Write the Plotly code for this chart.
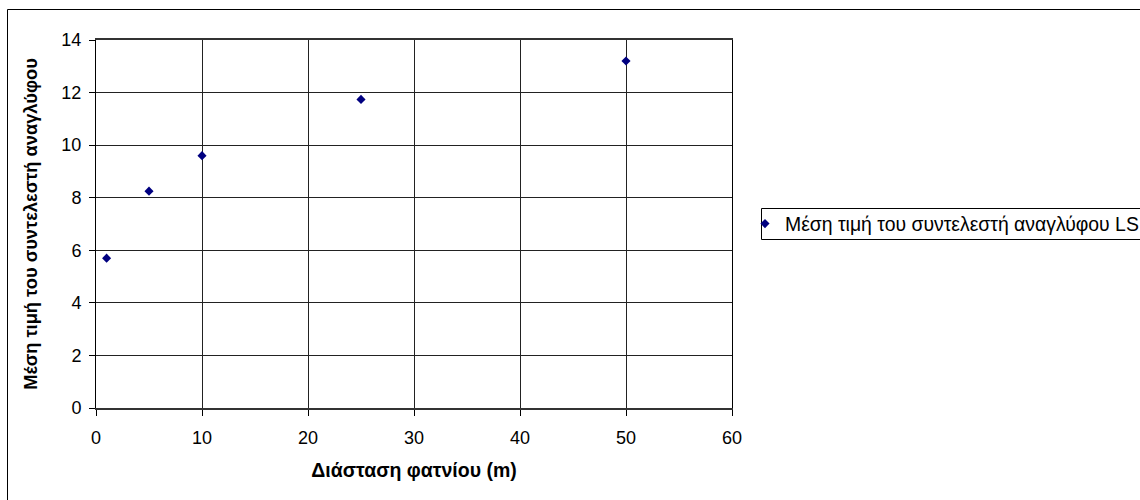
import plotly.graph_objects as go

# Data
x_vals = [1, 5, 10, 25, 50]
y_vals = [5.7, 8.25, 9.6, 11.74, 13.2]
series_name = "Μέση τιμή του συντελεστή αναγλύφου LS"
x_title = "Διάσταση φατνίου (m)"
y_title = "Μέση τιμή του συντελεστή αναγλύφου"
x_ticks = [0, 10, 20, 30, 40, 50, 60]
y_ticks = [0, 2, 4, 6, 8, 10, 12, 14]

W, H = 1140, 500
L, R, T, B = 96, 732, 40, 408  # plot area in pixels
pw, ph = R - L, B - T

def px2x(px):
    return (px - L) / pw

def py2y(py):
    return (B - py) / ph

FONT = "Liberation Sans, Arial, sans-serif"

fig = go.Figure()
fig.add_trace(go.Scatter(
    x=x_vals, y=y_vals, mode="markers", name=series_name,
    marker=dict(symbol="diamond", size=7, color="#000080"),
    showlegend=True,
))

fig.update_layout(
    width=W, height=H,
    margin=dict(l=L, r=W - R, t=T, b=H - B, autoexpand=False),
    paper_bgcolor="white", plot_bgcolor="white",
    font=dict(family=FONT, size=18, color="black"),
    showlegend=True,
    legend=dict(
        x=px2x(745), xanchor="left", y=py2y(224), yanchor="middle",
        bgcolor="rgba(0,0,0,0)", borderwidth=0,
        font=dict(family=FONT, size=19.4, color="black"),
        itemsizing="trace",
    ),
    xaxis=dict(
        range=[0, 60], tickvals=x_ticks, ticktext=[str(v) for v in x_ticks],
        showgrid=True, gridcolor="#222222", gridwidth=1,
        showline=True, linecolor="#333333", linewidth=2, mirror=True,
        ticks="outside", ticklen=6, tickcolor="black", tickwidth=1,
        ticklabelstandoff=6,
        zeroline=False,
        tickfont=dict(family=FONT, size=18, color="black"),
        title=dict(text="<b>" + x_title + "</b>", standoff=17,
                   font=dict(family=FONT, size=19.5, color="black")),
    ),
    yaxis=dict(
        range=[0, 14], tickvals=y_ticks, ticktext=[str(v) for v in y_ticks],
        showgrid=True, gridcolor="#222222", gridwidth=1,
        showline=True, linecolor="black", linewidth=1, mirror=True,
        ticks="outside", ticklen=6, tickcolor="black", tickwidth=1,
        ticklabelstandoff=4,
        zeroline=False,
        tickfont=dict(family=FONT, size=18, color="black"),
        title=dict(text="<b>" + y_title + "</b>", standoff=18,
                   font=dict(family=FONT, size=18.3, color="black")),
    ),
    shapes=[
        # outer chart border
        dict(type="rect", xref="paper", yref="paper",
             x0=px2x(7.5), x1=px2x(1145), y0=py2y(9.5), y1=py2y(505),
             line=dict(color="black", width=1), fillcolor="rgba(0,0,0,0)", layer="below"),
        # legend box
        dict(type="rect", xref="paper", yref="paper",
             x0=px2x(761.5), x1=px2x(1145), y0=py2y(208.5), y1=py2y(239.5),
             line=dict(color="black", width=1), fillcolor="white", layer="below"),
    ],
)

fig.write_html("out.html")
